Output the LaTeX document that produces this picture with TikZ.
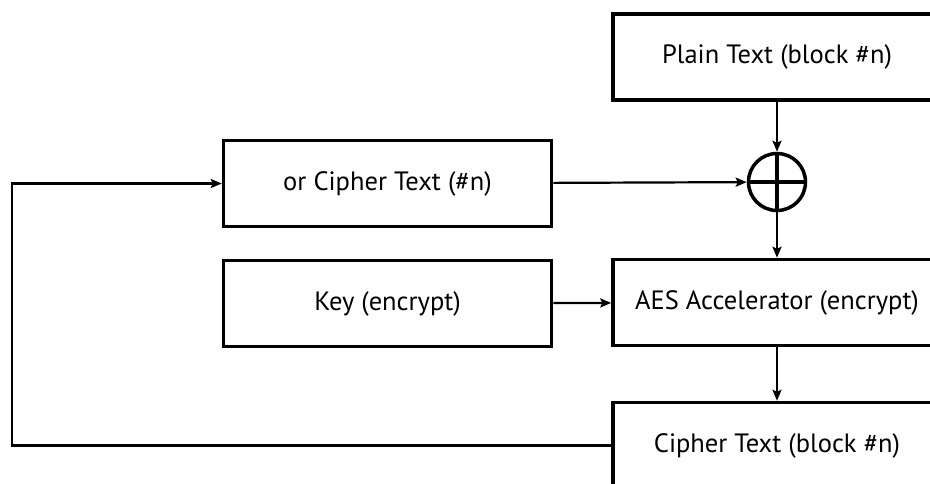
\documentclass[tikz,border=0pt]{standalone}
\usepackage{fontspec}
\setmainfont{PT Sans}
\usetikzlibrary{arrows.meta}

\begin{document}
\begin{tikzpicture}[x=1pt, y=-1pt, >={Stealth[length=11pt,width=9pt,inset=2pt]},
  blk/.style={draw, line width=3.5pt, minimum width=328pt, minimum height=86pt, font=\fontsize{26.5}{30}\selectfont},
  line/.style={line width=2.2pt}]
\useasboundingbox[clip] (0,0) rectangle (930,483);

\node[blk] (plain) at (777, 57) {Plain Text (block \#n)};
\node[draw, circle, line width=3.5pt, minimum size=57pt, inner sep=0pt] (xor) at (777, 182) {};
\node[blk] (iv) at (387.5, 183.5) {or Cipher Text (\#n)};
\node[blk] (key) at (387.5, 303.5) {Key (encrypt)};
\node[blk] (aes) at (777, 302.5) {AES Accelerator (encrypt)};
\node[blk] (cipher) at (777, 445.5) {Cipher Text (block \#n)};
\coordinate (fb) at (12, 300);

\draw[line width=3.5pt] (xor.north) -- (xor.south);
\draw[line width=3.5pt] (xor.west) -- (xor.east);

\draw[line, ->] (plain) -- (xor);
\draw[line, ->] (iv) -- (xor);
\draw[line, ->] (xor) -- (aes);
\draw[line, ->] (key) -- (aes);
\draw[line, ->] (aes) -- (cipher);
\draw[line, ->] (cipher.west) -- (cipher.west -| fb) |- (iv.west);
\end{tikzpicture}
\end{document}
